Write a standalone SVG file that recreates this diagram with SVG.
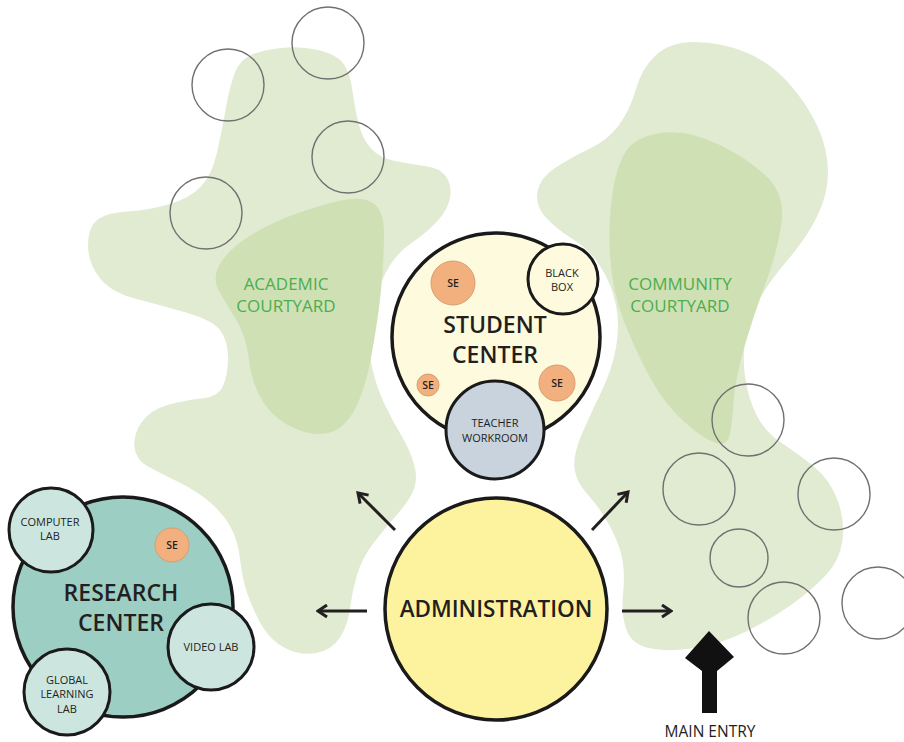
<svg xmlns="http://www.w3.org/2000/svg" width="904" height="742" viewBox="0 0 904 742">
<defs>
<style>
.blob{fill:#e1ebd1}
.core{fill:#cfe0b5}
.tree{fill:none;stroke:#707070;stroke-width:1.4}
.court{font-family:"Open Sans","Noto Sans",sans-serif;font-size:17px;fill:#4cae4c;text-anchor:middle}
.big{font-family:"Open Sans","Noto Sans",sans-serif;font-weight:600;fill:#231f20;text-anchor:middle}
.sm{font-family:"Open Sans","Noto Sans",sans-serif;font-size:11px;fill:#231f20;text-anchor:middle}
.se{fill:#f2b07f;stroke:#d99c6e;stroke-width:1}
.setx{font-family:"Open Sans","Noto Sans",sans-serif;font-size:10.5px;font-weight:600;fill:#231f20;text-anchor:middle}
.ring{stroke:#1a1a1a;stroke-width:3.5}
.ring2{stroke:#1a1a1a;stroke-width:3}
.arr{fill:none;stroke:#231f20;stroke-width:3;marker-end:url(#ah)}
</style>
<marker id="ah" viewBox="0 0 10 10" refX="8.5" refY="5" markerWidth="5" markerHeight="5" orient="auto" markerUnits="strokeWidth">
<path d="M2.5,1 L8.5,5 L2.5,9" fill="none" stroke="#231f20" stroke-width="2"/>
</marker>
</defs>
<rect width="904" height="742" fill="#ffffff"/>

<g id="academic-courtyard">
<path class="blob" d="M235,72.5 Q240,60 251,55 Q262,50 281,48 Q300,46 318,50 Q336,54 343,63 Q350,72 352.5,91 Q355,110 359,125 Q363,140 371.5,149 Q380,158 395,161 Q410,164 425,166 Q440,168 446,176.5 Q452,185 450,197.5 Q448,210 436.5,222 Q425,234 411.5,243 Q398,252 389.5,266 Q381,280 375.5,300 Q370,320 369.5,337.5 Q369,355 373,371.5 Q377,388 384.5,404 Q392,420 401,435 Q410,450 414,464 Q418,478 414,489 Q410,500 397.5,514 Q385,528 373.5,543 Q362,558 357,575 Q352,592 350,608.5 Q348,625 340,637.5 Q332,650 316,653 Q300,656 285,648 Q270,640 261.5,625 Q253,610 247.5,594 Q242,578 240,559 Q238,540 230,526 Q222,512 208.5,501 Q195,490 177.5,481.5 Q160,473 148,466.5 Q136,460 134.5,447.5 Q133,435 141.5,422.5 Q150,410 167.5,405 Q185,400 201.5,398.5 Q218,397 223,386 Q228,375 228,357.5 Q228,340 220,330 Q212,320 186,312.5 Q160,305 135,298.5 Q110,292 99,277 Q88,262 88,245 Q88,228 96.5,220.5 Q105,213 127.5,211.5 Q150,210 170,204 Q190,198 201,186.5 Q212,175 217,152.5 Q222,130 226,107.5 Q230,85 235,72.5 Z"/>
<path class="core" d="M248,237 Q268,224 294,214.5 Q320,205 341,200.5 Q362,196 373,203 Q384,210 384,235 Q384,260 381,290 Q378,320 371.5,355 Q365,390 355,409 Q345,428 330,432.5 Q315,437 295,428.5 Q275,420 263.5,402.5 Q252,385 249,360 Q246,335 235.5,318.5 Q225,302 218.5,290 Q212,278 220,264 Q228,250 248,237 Z"/>
<circle class="tree" cx="228" cy="85" r="36"/>
<circle class="tree" cx="328" cy="43" r="36"/>
<circle class="tree" cx="348" cy="157" r="36"/>
<circle class="tree" cx="206" cy="213" r="36"/>
<text class="court" x="286" y="290">ACADEMIC</text>
<text class="court" x="286" y="312">COURTYARD</text>
</g>

<g id="community-courtyard">
<path class="blob" d="M656,55 Q670,42 695,42 Q720,42 745,52 Q770,62 789,83.5 Q808,105 818,127.5 Q828,150 828,172.5 Q828,195 816.5,217.5 Q805,240 788.5,259 Q772,278 761,296.5 Q750,315 746,335 Q742,355 745,376.5 Q748,398 756.5,415 Q765,432 782.5,443.5 Q800,455 815,467.5 Q830,480 837.5,500 Q845,520 842.5,540 Q840,560 826,575 Q812,590 791,605 Q770,620 745,632 Q720,644 695,648 Q670,652 651,648.5 Q632,645 626.5,630 Q621,615 623,595 Q625,575 622.5,560 Q620,545 610,526.5 Q600,508 588,495 Q576,482 574.5,468.5 Q573,455 581.5,435 Q590,415 601,392.5 Q612,370 616,347.5 Q620,325 616,305 Q612,285 601,267.5 Q590,250 572.5,239 Q555,228 545,216.5 Q535,205 537.5,191.5 Q540,178 555,168 Q570,158 589,149 Q608,140 619,125 Q630,110 636,89 Q642,68 656,55 Z"/>
<path class="core" d="M629,147.5 Q640,135 665,132.5 Q690,130 720,145 Q750,160 767.5,177.5 Q785,195 781.5,222.5 Q778,250 765,285 Q752,320 743.5,350 Q735,380 733.5,402.5 Q732,425 729.5,435.5 Q727,446 716,443 Q705,440 685,422.5 Q665,405 650,377.5 Q635,350 623.5,320 Q612,290 610,255 Q608,220 613,190 Q618,160 629,147.5 Z"/>
<circle class="tree" cx="748" cy="420" r="36"/>
<circle class="tree" cx="699" cy="489" r="36"/>
<circle class="tree" cx="834" cy="494" r="36"/>
<circle class="tree" cx="739" cy="558" r="29"/>
<circle class="tree" cx="784" cy="618" r="36"/>
<circle class="tree" cx="878" cy="603" r="36"/>
<text class="court" x="680" y="290">COMMUNITY</text>
<text class="court" x="680" y="312">COURTYARD</text>
</g>

<g id="connectors">
<line class="arr" x1="367" y1="611" x2="318" y2="611"/>
<line class="arr" x1="622" y1="611" x2="671" y2="611"/>
<line class="arr" x1="395" y1="530" x2="358" y2="493"/>
<line class="arr" x1="592" y1="530" x2="628" y2="492"/>
</g>

<g id="student-center">
<circle class="ring" cx="496" cy="337" r="104" fill="#fefadd"/>
<g id="black-box">
<circle class="ring2" cx="563" cy="279" r="35" fill="#fefadd"/>
<text class="sm" x="562" y="277">BLACK</text>
<text class="sm" x="562" y="291">BOX</text>
</g>
<g id="se-1"><circle class="se" cx="453" cy="283" r="22"/><text class="setx" x="453" y="287">SE</text></g>
<g id="se-2"><circle class="se" cx="428" cy="385" r="11"/><text class="setx" x="428" y="389">SE</text></g>
<g id="se-3"><circle class="se" cx="557" cy="383" r="18"/><text class="setx" x="557" y="387">SE</text></g>
<text class="big" x="495" y="333" font-size="23">STUDENT</text>
<text class="big" x="495" y="363" font-size="23">CENTER</text>
<g id="teacher-workroom">
<circle class="ring2" cx="495" cy="430" r="49" fill="#c8d3de"/>
<text class="sm" x="495" y="427">TEACHER</text>
<text class="sm" x="495" y="442">WORKROOM</text>
</g>
</g>

<g id="research-center">
<circle class="ring" cx="123" cy="607" r="110" fill="#9ccec3"/>
<g id="computer-lab">
<circle class="ring2" cx="51" cy="530" r="42" fill="#cce6df"/>
<text class="sm" x="50" y="526">COMPUTER</text>
<text class="sm" x="50" y="540">LAB</text>
</g>
<g id="se-4"><circle class="se" cx="172" cy="545" r="17"/><text class="setx" x="172" y="549">SE</text></g>
<text class="big" x="121" y="601" font-size="23">RESEARCH</text>
<text class="big" x="121" y="631" font-size="23">CENTER</text>
<g id="video-lab">
<circle class="ring2" cx="211" cy="647" r="43" fill="#cce6df"/>
<text class="sm" x="211" y="651">VIDEO LAB</text>
</g>
<g id="global-learning-lab">
<circle class="ring2" cx="67" cy="692" r="43" fill="#cce6df"/>
<text class="sm" x="67" y="684">GLOBAL</text>
<text class="sm" x="67" y="698">LEARNING</text>
<text class="sm" x="67" y="713">LAB</text>
</g>
</g>

<g id="administration">
<circle class="ring" cx="496" cy="609" r="111" fill="#fdf39f"/>
<text class="big" x="496" y="617" font-size="22.5">ADMINISTRATION</text>
</g>

<g id="main-entry">
<polygon points="709,631 734,657 717,671 717,713 702,713 702,671 685,658" fill="#111"/>
<text x="710" y="737" font-family="Open Sans, Noto Sans, sans-serif" font-size="15.5" fill="#231f20" text-anchor="middle">MAIN ENTRY</text>
</g>
</svg>
